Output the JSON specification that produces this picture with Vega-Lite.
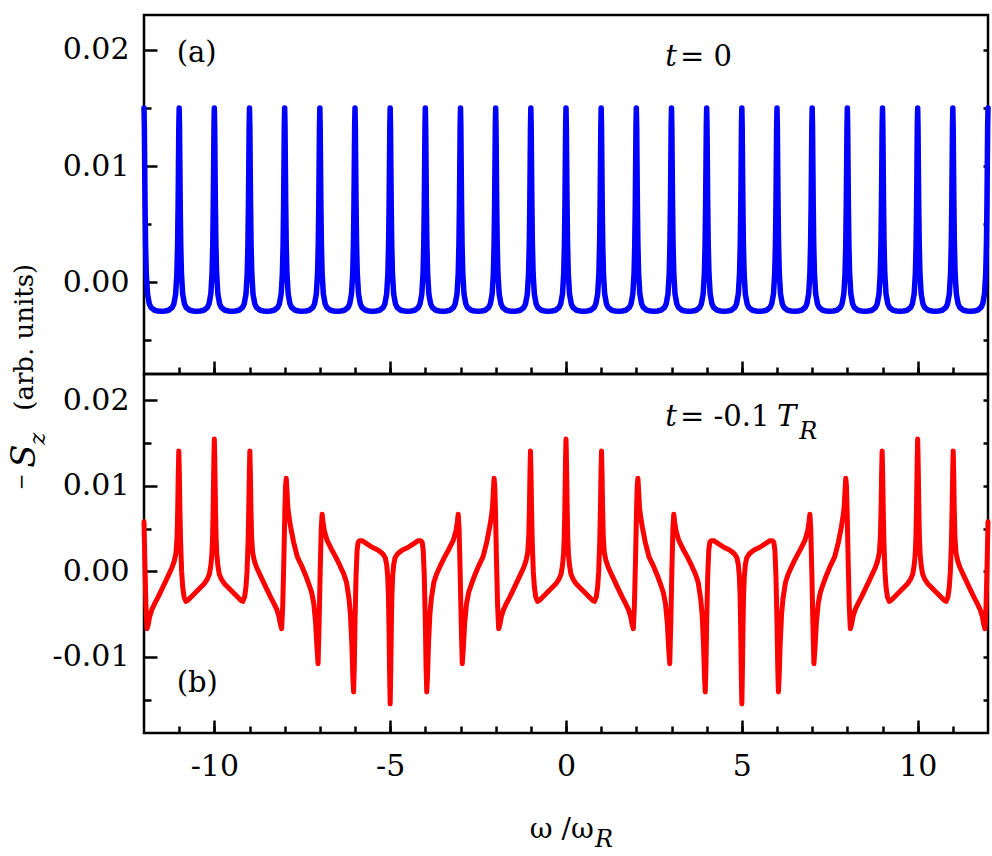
{
"$schema": "https://vega.github.io/schema/vega-lite/v6.json",
"background": "white",
"padding": {"left": 6, "top": 13, "right": 0, "bottom": 0},
"autosize": {"type": "pad"},
"config": {
  "view": {"stroke": "black", "strokeWidth": 2.5},
  "axis": {"domain": false, "grid": false, "tickColor": "black", "tickWidth": 2.5, "labelFont": "DejaVu Serif", "labelFontSize": 30, "labelColor": "black", "labelFlush": false},
  "text": {"font": "DejaVu Serif", "color": "black"}
},
"datasets": {
"top": [
{"w":-12,"s":0.015},{"w":-11.99,"s":0.0134},{"w":-11.98,"s":0.00996},{"w":-11.97,"s":0.00665},{"w":-11.955,"s":0.0032},{"w":-11.935,"s":0.00075},{"w":-11.9,"s":-0.00102},{"w":-11.85,"s":-0.00186},{"w":-11.8,"s":-0.00218},{"w":-11.7,"s":-0.00241},{"w":-11.6,"s":-0.00248},{"w":-11.5,"s":-0.0025},{"w":-11.4,"s":-0.00248},{"w":-11.3,"s":-0.00241},{"w":-11.2,"s":-0.00218},{"w":-11.15,"s":-0.00186},{"w":-11.1,"s":-0.00102},{"w":-11.065,"s":0.00075},{"w":-11.045,"s":0.0032},{"w":-11.03,"s":0.00665},{"w":-11.02,"s":0.00996},{"w":-11.01,"s":0.0134},
{"w":-11,"s":0.015},{"w":-10.99,"s":0.0134},{"w":-10.98,"s":0.00996},{"w":-10.97,"s":0.00665},{"w":-10.955,"s":0.0032},{"w":-10.935,"s":0.00075},{"w":-10.9,"s":-0.00102},{"w":-10.85,"s":-0.00186},{"w":-10.8,"s":-0.00218},{"w":-10.7,"s":-0.00241},{"w":-10.6,"s":-0.00248},{"w":-10.5,"s":-0.0025},{"w":-10.4,"s":-0.00248},{"w":-10.3,"s":-0.00241},{"w":-10.2,"s":-0.00218},{"w":-10.15,"s":-0.00186},{"w":-10.1,"s":-0.00102},{"w":-10.065,"s":0.00075},{"w":-10.045,"s":0.0032},{"w":-10.03,"s":0.00665},{"w":-10.02,"s":0.00996},{"w":-10.01,"s":0.0134},
{"w":-10,"s":0.015},{"w":-9.99,"s":0.0134},{"w":-9.98,"s":0.00996},{"w":-9.97,"s":0.00665},{"w":-9.955,"s":0.0032},{"w":-9.935,"s":0.00075},{"w":-9.9,"s":-0.00102},{"w":-9.85,"s":-0.00186},{"w":-9.8,"s":-0.00218},{"w":-9.7,"s":-0.00241},{"w":-9.6,"s":-0.00248},{"w":-9.5,"s":-0.0025},{"w":-9.4,"s":-0.00248},{"w":-9.3,"s":-0.00241},{"w":-9.2,"s":-0.00218},{"w":-9.15,"s":-0.00186},{"w":-9.1,"s":-0.00102},{"w":-9.065,"s":0.00075},{"w":-9.045,"s":0.0032},{"w":-9.03,"s":0.00665},{"w":-9.02,"s":0.00996},{"w":-9.01,"s":0.0134},
{"w":-9,"s":0.015},{"w":-8.99,"s":0.0134},{"w":-8.98,"s":0.00996},{"w":-8.97,"s":0.00665},{"w":-8.955,"s":0.0032},{"w":-8.935,"s":0.00075},{"w":-8.9,"s":-0.00102},{"w":-8.85,"s":-0.00186},{"w":-8.8,"s":-0.00218},{"w":-8.7,"s":-0.00241},{"w":-8.6,"s":-0.00248},{"w":-8.5,"s":-0.0025},{"w":-8.4,"s":-0.00248},{"w":-8.3,"s":-0.00241},{"w":-8.2,"s":-0.00218},{"w":-8.15,"s":-0.00186},{"w":-8.1,"s":-0.00102},{"w":-8.065,"s":0.00075},{"w":-8.045,"s":0.0032},{"w":-8.03,"s":0.00665},{"w":-8.02,"s":0.00996},{"w":-8.01,"s":0.0134},
{"w":-8,"s":0.015},{"w":-7.99,"s":0.0134},{"w":-7.98,"s":0.00996},{"w":-7.97,"s":0.00665},{"w":-7.955,"s":0.0032},{"w":-7.935,"s":0.00075},{"w":-7.9,"s":-0.00102},{"w":-7.85,"s":-0.00186},{"w":-7.8,"s":-0.00218},{"w":-7.7,"s":-0.00241},{"w":-7.6,"s":-0.00248},{"w":-7.5,"s":-0.0025},{"w":-7.4,"s":-0.00248},{"w":-7.3,"s":-0.00241},{"w":-7.2,"s":-0.00218},{"w":-7.15,"s":-0.00186},{"w":-7.1,"s":-0.00102},{"w":-7.065,"s":0.00075},{"w":-7.045,"s":0.0032},{"w":-7.03,"s":0.00665},{"w":-7.02,"s":0.00996},{"w":-7.01,"s":0.0134},
{"w":-7,"s":0.015},{"w":-6.99,"s":0.0134},{"w":-6.98,"s":0.00996},{"w":-6.97,"s":0.00665},{"w":-6.955,"s":0.0032},{"w":-6.935,"s":0.00075},{"w":-6.9,"s":-0.00102},{"w":-6.85,"s":-0.00186},{"w":-6.8,"s":-0.00218},{"w":-6.7,"s":-0.00241},{"w":-6.6,"s":-0.00248},{"w":-6.5,"s":-0.0025},{"w":-6.4,"s":-0.00248},{"w":-6.3,"s":-0.00241},{"w":-6.2,"s":-0.00218},{"w":-6.15,"s":-0.00186},{"w":-6.1,"s":-0.00102},{"w":-6.065,"s":0.00075},{"w":-6.045,"s":0.0032},{"w":-6.03,"s":0.00665},{"w":-6.02,"s":0.00996},{"w":-6.01,"s":0.0134},
{"w":-6,"s":0.015},{"w":-5.99,"s":0.0134},{"w":-5.98,"s":0.00996},{"w":-5.97,"s":0.00665},{"w":-5.955,"s":0.0032},{"w":-5.935,"s":0.00075},{"w":-5.9,"s":-0.00102},{"w":-5.85,"s":-0.00186},{"w":-5.8,"s":-0.00218},{"w":-5.7,"s":-0.00241},{"w":-5.6,"s":-0.00248},{"w":-5.5,"s":-0.0025},{"w":-5.4,"s":-0.00248},{"w":-5.3,"s":-0.00241},{"w":-5.2,"s":-0.00218},{"w":-5.15,"s":-0.00186},{"w":-5.1,"s":-0.00102},{"w":-5.065,"s":0.00075},{"w":-5.045,"s":0.0032},{"w":-5.03,"s":0.00665},{"w":-5.02,"s":0.00996},{"w":-5.01,"s":0.0134},
{"w":-5,"s":0.015},{"w":-4.99,"s":0.0134},{"w":-4.98,"s":0.00996},{"w":-4.97,"s":0.00665},{"w":-4.955,"s":0.0032},{"w":-4.935,"s":0.00075},{"w":-4.9,"s":-0.00102},{"w":-4.85,"s":-0.00186},{"w":-4.8,"s":-0.00218},{"w":-4.7,"s":-0.00241},{"w":-4.6,"s":-0.00248},{"w":-4.5,"s":-0.0025},{"w":-4.4,"s":-0.00248},{"w":-4.3,"s":-0.00241},{"w":-4.2,"s":-0.00218},{"w":-4.15,"s":-0.00186},{"w":-4.1,"s":-0.00102},{"w":-4.065,"s":0.00075},{"w":-4.045,"s":0.0032},{"w":-4.03,"s":0.00665},{"w":-4.02,"s":0.00996},{"w":-4.01,"s":0.0134},
{"w":-4,"s":0.015},{"w":-3.99,"s":0.0134},{"w":-3.98,"s":0.00996},{"w":-3.97,"s":0.00665},{"w":-3.955,"s":0.0032},{"w":-3.935,"s":0.00075},{"w":-3.9,"s":-0.00102},{"w":-3.85,"s":-0.00186},{"w":-3.8,"s":-0.00218},{"w":-3.7,"s":-0.00241},{"w":-3.6,"s":-0.00248},{"w":-3.5,"s":-0.0025},{"w":-3.4,"s":-0.00248},{"w":-3.3,"s":-0.00241},{"w":-3.2,"s":-0.00218},{"w":-3.15,"s":-0.00186},{"w":-3.1,"s":-0.00102},{"w":-3.065,"s":0.00075},{"w":-3.045,"s":0.0032},{"w":-3.03,"s":0.00665},{"w":-3.02,"s":0.00996},{"w":-3.01,"s":0.0134},
{"w":-3,"s":0.015},{"w":-2.99,"s":0.0134},{"w":-2.98,"s":0.00996},{"w":-2.97,"s":0.00665},{"w":-2.955,"s":0.0032},{"w":-2.935,"s":0.00075},{"w":-2.9,"s":-0.00102},{"w":-2.85,"s":-0.00186},{"w":-2.8,"s":-0.00218},{"w":-2.7,"s":-0.00241},{"w":-2.6,"s":-0.00248},{"w":-2.5,"s":-0.0025},{"w":-2.4,"s":-0.00248},{"w":-2.3,"s":-0.00241},{"w":-2.2,"s":-0.00218},{"w":-2.15,"s":-0.00186},{"w":-2.1,"s":-0.00102},{"w":-2.065,"s":0.00075},{"w":-2.045,"s":0.0032},{"w":-2.03,"s":0.00665},{"w":-2.02,"s":0.00996},{"w":-2.01,"s":0.0134},
{"w":-2,"s":0.015},{"w":-1.99,"s":0.0134},{"w":-1.98,"s":0.00996},{"w":-1.97,"s":0.00665},{"w":-1.955,"s":0.0032},{"w":-1.935,"s":0.00075},{"w":-1.9,"s":-0.00102},{"w":-1.85,"s":-0.00186},{"w":-1.8,"s":-0.00218},{"w":-1.7,"s":-0.00241},{"w":-1.6,"s":-0.00248},{"w":-1.5,"s":-0.0025},{"w":-1.4,"s":-0.00248},{"w":-1.3,"s":-0.00241},{"w":-1.2,"s":-0.00218},{"w":-1.15,"s":-0.00186},{"w":-1.1,"s":-0.00102},{"w":-1.065,"s":0.00075},{"w":-1.045,"s":0.0032},{"w":-1.03,"s":0.00665},{"w":-1.02,"s":0.00996},{"w":-1.01,"s":0.0134},
{"w":-1,"s":0.015},{"w":-0.99,"s":0.0134},{"w":-0.98,"s":0.00996},{"w":-0.97,"s":0.00665},{"w":-0.955,"s":0.0032},{"w":-0.935,"s":0.00075},{"w":-0.9,"s":-0.00102},{"w":-0.85,"s":-0.00186},{"w":-0.8,"s":-0.00218},{"w":-0.7,"s":-0.00241},{"w":-0.6,"s":-0.00248},{"w":-0.5,"s":-0.0025},{"w":-0.4,"s":-0.00248},{"w":-0.3,"s":-0.00241},{"w":-0.2,"s":-0.00218},{"w":-0.15,"s":-0.00186},{"w":-0.1,"s":-0.00102},{"w":-0.065,"s":0.00075},{"w":-0.045,"s":0.0032},{"w":-0.03,"s":0.00665},{"w":-0.02,"s":0.00996},{"w":-0.01,"s":0.0134},
{"w":0,"s":0.015},{"w":0.01,"s":0.0134},{"w":0.02,"s":0.00996},{"w":0.03,"s":0.00665},{"w":0.045,"s":0.0032},{"w":0.065,"s":0.00075},{"w":0.1,"s":-0.00102},{"w":0.15,"s":-0.00186},{"w":0.2,"s":-0.00218},{"w":0.3,"s":-0.00241},{"w":0.4,"s":-0.00248},{"w":0.5,"s":-0.0025},{"w":0.6,"s":-0.00248},{"w":0.7,"s":-0.00241},{"w":0.8,"s":-0.00218},{"w":0.85,"s":-0.00186},{"w":0.9,"s":-0.00102},{"w":0.935,"s":0.00075},{"w":0.955,"s":0.0032},{"w":0.97,"s":0.00665},{"w":0.98,"s":0.00996},{"w":0.99,"s":0.0134},
{"w":1,"s":0.015},{"w":1.01,"s":0.0134},{"w":1.02,"s":0.00996},{"w":1.03,"s":0.00665},{"w":1.045,"s":0.0032},{"w":1.065,"s":0.00075},{"w":1.1,"s":-0.00102},{"w":1.15,"s":-0.00186},{"w":1.2,"s":-0.00218},{"w":1.3,"s":-0.00241},{"w":1.4,"s":-0.00248},{"w":1.5,"s":-0.0025},{"w":1.6,"s":-0.00248},{"w":1.7,"s":-0.00241},{"w":1.8,"s":-0.00218},{"w":1.85,"s":-0.00186},{"w":1.9,"s":-0.00102},{"w":1.935,"s":0.00075},{"w":1.955,"s":0.0032},{"w":1.97,"s":0.00665},{"w":1.98,"s":0.00996},{"w":1.99,"s":0.0134},
{"w":2,"s":0.015},{"w":2.01,"s":0.0134},{"w":2.02,"s":0.00996},{"w":2.03,"s":0.00665},{"w":2.045,"s":0.0032},{"w":2.065,"s":0.00075},{"w":2.1,"s":-0.00102},{"w":2.15,"s":-0.00186},{"w":2.2,"s":-0.00218},{"w":2.3,"s":-0.00241},{"w":2.4,"s":-0.00248},{"w":2.5,"s":-0.0025},{"w":2.6,"s":-0.00248},{"w":2.7,"s":-0.00241},{"w":2.8,"s":-0.00218},{"w":2.85,"s":-0.00186},{"w":2.9,"s":-0.00102},{"w":2.935,"s":0.00075},{"w":2.955,"s":0.0032},{"w":2.97,"s":0.00665},{"w":2.98,"s":0.00996},{"w":2.99,"s":0.0134},
{"w":3,"s":0.015},{"w":3.01,"s":0.0134},{"w":3.02,"s":0.00996},{"w":3.03,"s":0.00665},{"w":3.045,"s":0.0032},{"w":3.065,"s":0.00075},{"w":3.1,"s":-0.00102},{"w":3.15,"s":-0.00186},{"w":3.2,"s":-0.00218},{"w":3.3,"s":-0.00241},{"w":3.4,"s":-0.00248},{"w":3.5,"s":-0.0025},{"w":3.6,"s":-0.00248},{"w":3.7,"s":-0.00241},{"w":3.8,"s":-0.00218},{"w":3.85,"s":-0.00186},{"w":3.9,"s":-0.00102},{"w":3.935,"s":0.00075},{"w":3.955,"s":0.0032},{"w":3.97,"s":0.00665},{"w":3.98,"s":0.00996},{"w":3.99,"s":0.0134},
{"w":4,"s":0.015},{"w":4.01,"s":0.0134},{"w":4.02,"s":0.00996},{"w":4.03,"s":0.00665},{"w":4.045,"s":0.0032},{"w":4.065,"s":0.00075},{"w":4.1,"s":-0.00102},{"w":4.15,"s":-0.00186},{"w":4.2,"s":-0.00218},{"w":4.3,"s":-0.00241},{"w":4.4,"s":-0.00248},{"w":4.5,"s":-0.0025},{"w":4.6,"s":-0.00248},{"w":4.7,"s":-0.00241},{"w":4.8,"s":-0.00218},{"w":4.85,"s":-0.00186},{"w":4.9,"s":-0.00102},{"w":4.935,"s":0.00075},{"w":4.955,"s":0.0032},{"w":4.97,"s":0.00665},{"w":4.98,"s":0.00996},{"w":4.99,"s":0.0134},
{"w":5,"s":0.015},{"w":5.01,"s":0.0134},{"w":5.02,"s":0.00996},{"w":5.03,"s":0.00665},{"w":5.045,"s":0.0032},{"w":5.065,"s":0.00075},{"w":5.1,"s":-0.00102},{"w":5.15,"s":-0.00186},{"w":5.2,"s":-0.00218},{"w":5.3,"s":-0.00241},{"w":5.4,"s":-0.00248},{"w":5.5,"s":-0.0025},{"w":5.6,"s":-0.00248},{"w":5.7,"s":-0.00241},{"w":5.8,"s":-0.00218},{"w":5.85,"s":-0.00186},{"w":5.9,"s":-0.00102},{"w":5.935,"s":0.00075},{"w":5.955,"s":0.0032},{"w":5.97,"s":0.00665},{"w":5.98,"s":0.00996},{"w":5.99,"s":0.0134},
{"w":6,"s":0.015},{"w":6.01,"s":0.0134},{"w":6.02,"s":0.00996},{"w":6.03,"s":0.00665},{"w":6.045,"s":0.0032},{"w":6.065,"s":0.00075},{"w":6.1,"s":-0.00102},{"w":6.15,"s":-0.00186},{"w":6.2,"s":-0.00218},{"w":6.3,"s":-0.00241},{"w":6.4,"s":-0.00248},{"w":6.5,"s":-0.0025},{"w":6.6,"s":-0.00248},{"w":6.7,"s":-0.00241},{"w":6.8,"s":-0.00218},{"w":6.85,"s":-0.00186},{"w":6.9,"s":-0.00102},{"w":6.935,"s":0.00075},{"w":6.955,"s":0.0032},{"w":6.97,"s":0.00665},{"w":6.98,"s":0.00996},{"w":6.99,"s":0.0134},
{"w":7,"s":0.015},{"w":7.01,"s":0.0134},{"w":7.02,"s":0.00996},{"w":7.03,"s":0.00665},{"w":7.045,"s":0.0032},{"w":7.065,"s":0.00075},{"w":7.1,"s":-0.00102},{"w":7.15,"s":-0.00186},{"w":7.2,"s":-0.00218},{"w":7.3,"s":-0.00241},{"w":7.4,"s":-0.00248},{"w":7.5,"s":-0.0025},{"w":7.6,"s":-0.00248},{"w":7.7,"s":-0.00241},{"w":7.8,"s":-0.00218},{"w":7.85,"s":-0.00186},{"w":7.9,"s":-0.00102},{"w":7.935,"s":0.00075},{"w":7.955,"s":0.0032},{"w":7.97,"s":0.00665},{"w":7.98,"s":0.00996},{"w":7.99,"s":0.0134},
{"w":8,"s":0.015},{"w":8.01,"s":0.0134},{"w":8.02,"s":0.00996},{"w":8.03,"s":0.00665},{"w":8.045,"s":0.0032},{"w":8.065,"s":0.00075},{"w":8.1,"s":-0.00102},{"w":8.15,"s":-0.00186},{"w":8.2,"s":-0.00218},{"w":8.3,"s":-0.00241},{"w":8.4,"s":-0.00248},{"w":8.5,"s":-0.0025},{"w":8.6,"s":-0.00248},{"w":8.7,"s":-0.00241},{"w":8.8,"s":-0.00218},{"w":8.85,"s":-0.00186},{"w":8.9,"s":-0.00102},{"w":8.935,"s":0.00075},{"w":8.955,"s":0.0032},{"w":8.97,"s":0.00665},{"w":8.98,"s":0.00996},{"w":8.99,"s":0.0134},
{"w":9,"s":0.015},{"w":9.01,"s":0.0134},{"w":9.02,"s":0.00996},{"w":9.03,"s":0.00665},{"w":9.045,"s":0.0032},{"w":9.065,"s":0.00075},{"w":9.1,"s":-0.00102},{"w":9.15,"s":-0.00186},{"w":9.2,"s":-0.00218},{"w":9.3,"s":-0.00241},{"w":9.4,"s":-0.00248},{"w":9.5,"s":-0.0025},{"w":9.6,"s":-0.00248},{"w":9.7,"s":-0.00241},{"w":9.8,"s":-0.00218},{"w":9.85,"s":-0.00186},{"w":9.9,"s":-0.00102},{"w":9.935,"s":0.00075},{"w":9.955,"s":0.0032},{"w":9.97,"s":0.00665},{"w":9.98,"s":0.00996},{"w":9.99,"s":0.0134},
{"w":10,"s":0.015},{"w":10.01,"s":0.0134},{"w":10.02,"s":0.00996},{"w":10.03,"s":0.00665},{"w":10.045,"s":0.0032},{"w":10.065,"s":0.00075},{"w":10.1,"s":-0.00102},{"w":10.15,"s":-0.00186},{"w":10.2,"s":-0.00218},{"w":10.3,"s":-0.00241},{"w":10.4,"s":-0.00248},{"w":10.5,"s":-0.0025},{"w":10.6,"s":-0.00248},{"w":10.7,"s":-0.00241},{"w":10.8,"s":-0.00218},{"w":10.85,"s":-0.00186},{"w":10.9,"s":-0.00102},{"w":10.935,"s":0.00075},{"w":10.955,"s":0.0032},{"w":10.97,"s":0.00665},{"w":10.98,"s":0.00996},{"w":10.99,"s":0.0134},
{"w":11,"s":0.015},{"w":11.01,"s":0.0134},{"w":11.02,"s":0.00996},{"w":11.03,"s":0.00665},{"w":11.045,"s":0.0032},{"w":11.065,"s":0.00075},{"w":11.1,"s":-0.00102},{"w":11.15,"s":-0.00186},{"w":11.2,"s":-0.00218},{"w":11.3,"s":-0.00241},{"w":11.4,"s":-0.00248},{"w":11.5,"s":-0.0025},{"w":11.6,"s":-0.00248},{"w":11.7,"s":-0.00241},{"w":11.8,"s":-0.00218},{"w":11.85,"s":-0.00186},{"w":11.9,"s":-0.00102},{"w":11.935,"s":0.00075},{"w":11.955,"s":0.0032},{"w":11.97,"s":0.00665},{"w":11.98,"s":0.00996},{"w":11.99,"s":0.0134},
{"w":12,"s":0.015}
],
"bot": [
{"w":0,"s":0.0155},{"w":0.01,"s":0.0137},{"w":0.02,"s":0.0112},{"w":0.035,"s":0.007},{"w":0.05,"s":0.004},{"w":0.07,"s":0.002},{"w":0.1,"s":0.0007},{"w":0.14,"s":-0.0003},{"w":0.2,"s":-0.0009},{"w":0.28,"s":-0.0014},{"w":0.4,"s":-0.0019},{"w":0.52,"s":-0.0024},{"w":0.64,"s":-0.0029},{"w":0.76,"s":-0.0034},{"w":0.81,"s":-0.0035},{"w":0.86,"s":-0.003},{"w":0.9,"s":-0.0018},{"w":0.93,"s":0},{"w":0.96,"s":0.0035},{"w":0.98,"s":0.0075},{"w":0.995,"s":0.0115},{"w":1.01,"s":0.0141},{"w":1.025,"s":0.0115},{"w":1.04,"s":0.0075},{"w":1.06,"s":0.004},{"w":1.09,"s":0.0022},{"w":1.14,"s":0.0012},{"w":1.2,"s":0.0005},{"w":1.3,"s":-0.0004},{"w":1.46,"s":-0.0018},{"w":1.6,"s":-0.003},{"w":1.7,"s":-0.0038},{"w":1.78,"s":-0.0045},{"w":1.84,"s":-0.0053},{"w":1.88,"s":-0.0062},{"w":1.915,"s":-0.0067},{"w":1.945,"s":-0.004},{"w":1.975,"s":0.001},{"w":2.005,"s":0.007},{"w":2.025,"s":0.01},{"w":2.045,"s":0.0109},{"w":2.065,"s":0.0095},{"w":2.09,"s":0.0075},{"w":2.13,"s":0.0062},{"w":2.17,"s":0.0052},{"w":2.25,"s":0.0035},{"w":2.36,"s":0.0017},{"w":2.5,"s":0.0005},{"w":2.6,"s":-0.0005},{"w":2.69,"s":-0.0015},{"w":2.77,"s":-0.0025},{"w":2.83,"s":-0.0038},{"w":2.88,"s":-0.006},{"w":2.92,"s":-0.009},{"w":2.95,"s":-0.0108},{"w":2.98,"s":-0.006},{"w":3.01,"s":0},{"w":3.04,"s":0.005},{"w":3.065,"s":0.0067},{"w":3.09,"s":0.0058},{"w":3.13,"s":0.0047},{"w":3.21,"s":0.0036},{"w":3.33,"s":0.0026},{"w":3.45,"s":0.0017},{"w":3.57,"s":0.0007},{"w":3.68,"s":-0.0003},{"w":3.76,"s":-0.0013},{"w":3.83,"s":-0.0032},{"w":3.87,"s":-0.005},{"w":3.91,"s":-0.0085},{"w":3.94,"s":-0.0125},{"w":3.96,"s":-0.0141},{"w":3.98,"s":-0.011},{"w":4,"s":-0.006},{"w":4.03,"s":-0.0005},{"w":4.06,"s":0.0025},{"w":4.09,"s":0.0034},{"w":4.13,"s":0.0036},{"w":4.2,"s":0.0036},{"w":4.35,"s":0.0032},{"w":4.5,"s":0.0028},{"w":4.65,"s":0.0025},{"w":4.75,"s":0.0022},{"w":4.8,"s":0.002},{"w":4.86,"s":0.0016},{"w":4.9,"s":0.0008},{"w":4.93,"s":-0.0006},{"w":4.95,"s":-0.0028},{"w":4.965,"s":-0.006},{"w":4.98,"s":-0.0106},{"w":4.99,"s":-0.0133},{"w":5,"s":-0.0155},
{"w":5.01,"s":-0.0133},{"w":5.02,"s":-0.0106},{"w":5.035,"s":-0.006},{"w":5.05,"s":-0.0028},{"w":5.07,"s":-0.0006},{"w":5.1,"s":0.0008},{"w":5.14,"s":0.0016},{"w":5.2,"s":0.002},{"w":5.25,"s":0.0022},{"w":5.35,"s":0.0025},{"w":5.5,"s":0.0028},{"w":5.65,"s":0.0032},{"w":5.8,"s":0.0036},{"w":5.87,"s":0.0036},{"w":5.91,"s":0.0034},{"w":5.94,"s":0.0025},{"w":5.97,"s":-0.0005},{"w":6,"s":-0.006},{"w":6.02,"s":-0.011},{"w":6.04,"s":-0.0141},{"w":6.06,"s":-0.0125},{"w":6.09,"s":-0.0085},{"w":6.13,"s":-0.005},{"w":6.17,"s":-0.0032},{"w":6.24,"s":-0.0013},{"w":6.32,"s":-0.0003},{"w":6.43,"s":0.0007},{"w":6.55,"s":0.0017},{"w":6.67,"s":0.0026},{"w":6.79,"s":0.0036},{"w":6.87,"s":0.0047},{"w":6.91,"s":0.0058},{"w":6.935,"s":0.0067},{"w":6.96,"s":0.005},{"w":6.99,"s":0},{"w":7.02,"s":-0.006},{"w":7.05,"s":-0.0108},{"w":7.08,"s":-0.009},{"w":7.12,"s":-0.006},{"w":7.17,"s":-0.0038},{"w":7.23,"s":-0.0025},{"w":7.31,"s":-0.0015},{"w":7.4,"s":-0.0005},{"w":7.5,"s":0.0005},{"w":7.64,"s":0.0017},{"w":7.75,"s":0.0035},{"w":7.83,"s":0.0052},{"w":7.87,"s":0.0062},{"w":7.91,"s":0.0075},{"w":7.935,"s":0.0095},{"w":7.955,"s":0.0109},{"w":7.975,"s":0.01},{"w":7.995,"s":0.007},{"w":8.025,"s":0.001},{"w":8.055,"s":-0.004},{"w":8.085,"s":-0.0067},{"w":8.12,"s":-0.0062},{"w":8.16,"s":-0.0053},{"w":8.22,"s":-0.0045},{"w":8.3,"s":-0.0038},{"w":8.4,"s":-0.003},{"w":8.54,"s":-0.0018},{"w":8.7,"s":-0.0004},{"w":8.8,"s":0.0005},{"w":8.86,"s":0.0012},{"w":8.91,"s":0.0022},{"w":8.94,"s":0.004},{"w":8.96,"s":0.0075},{"w":8.975,"s":0.0115},{"w":8.99,"s":0.0141},{"w":9.005,"s":0.0115},{"w":9.02,"s":0.0075},{"w":9.04,"s":0.0035},{"w":9.07,"s":0},{"w":9.1,"s":-0.0018},{"w":9.14,"s":-0.003},{"w":9.19,"s":-0.0035},{"w":9.24,"s":-0.0034},{"w":9.36,"s":-0.0029},{"w":9.48,"s":-0.0024},{"w":9.6,"s":-0.0019},{"w":9.72,"s":-0.0014},{"w":9.8,"s":-0.0009},{"w":9.86,"s":-0.0003},{"w":9.9,"s":0.0007},{"w":9.93,"s":0.002},{"w":9.95,"s":0.004},{"w":9.965,"s":0.007},{"w":9.98,"s":0.0112},{"w":9.99,"s":0.0137},{"w":10,"s":0.0155},
{"w":10.01,"s":0.0137},{"w":10.02,"s":0.0112},{"w":10.035,"s":0.007},{"w":10.05,"s":0.004},{"w":10.07,"s":0.002},{"w":10.1,"s":0.0007},{"w":10.14,"s":-0.0003},{"w":10.2,"s":-0.0009},{"w":10.28,"s":-0.0014},{"w":10.4,"s":-0.0019},{"w":10.52,"s":-0.0024},{"w":10.64,"s":-0.0029},{"w":10.76,"s":-0.0034},{"w":10.81,"s":-0.0035},{"w":10.86,"s":-0.003},{"w":10.9,"s":-0.0018},{"w":10.93,"s":0},{"w":10.96,"s":0.0035},{"w":10.98,"s":0.0075},{"w":10.995,"s":0.0115},{"w":11.01,"s":0.0141},{"w":11.025,"s":0.0115},{"w":11.04,"s":0.0075},{"w":11.06,"s":0.004},{"w":11.09,"s":0.0022},{"w":11.14,"s":0.0012},{"w":11.2,"s":0.0005},{"w":11.3,"s":-0.0004},{"w":11.46,"s":-0.0018},{"w":11.6,"s":-0.003},{"w":11.7,"s":-0.0038},{"w":11.78,"s":-0.0045},{"w":11.84,"s":-0.0053},{"w":11.88,"s":-0.0062},{"w":11.915,"s":-0.0067},{"w":11.945,"s":-0.004},{"w":11.975,"s":0.001},{"w":12,"s":0.0058},
{"w":-0.01,"s":0.0137},{"w":-0.02,"s":0.0112},{"w":-0.035,"s":0.007},{"w":-0.05,"s":0.004},{"w":-0.07,"s":0.002},{"w":-0.1,"s":0.0007},{"w":-0.14,"s":-0.0003},{"w":-0.2,"s":-0.0009},{"w":-0.28,"s":-0.0014},{"w":-0.4,"s":-0.0019},{"w":-0.52,"s":-0.0024},{"w":-0.64,"s":-0.0029},{"w":-0.76,"s":-0.0034},{"w":-0.81,"s":-0.0035},{"w":-0.86,"s":-0.003},{"w":-0.9,"s":-0.0018},{"w":-0.93,"s":0},{"w":-0.96,"s":0.0035},{"w":-0.98,"s":0.0075},{"w":-0.995,"s":0.0115},{"w":-1.01,"s":0.0141},{"w":-1.025,"s":0.0115},{"w":-1.04,"s":0.0075},{"w":-1.06,"s":0.004},{"w":-1.09,"s":0.0022},{"w":-1.14,"s":0.0012},{"w":-1.2,"s":0.0005},{"w":-1.3,"s":-0.0004},{"w":-1.46,"s":-0.0018},{"w":-1.6,"s":-0.003},{"w":-1.7,"s":-0.0038},{"w":-1.78,"s":-0.0045},{"w":-1.84,"s":-0.0053},{"w":-1.88,"s":-0.0062},{"w":-1.915,"s":-0.0067},{"w":-1.945,"s":-0.004},{"w":-1.975,"s":0.001},{"w":-2.005,"s":0.007},{"w":-2.025,"s":0.01},{"w":-2.045,"s":0.0109},{"w":-2.065,"s":0.0095},{"w":-2.09,"s":0.0075},{"w":-2.13,"s":0.0062},{"w":-2.17,"s":0.0052},{"w":-2.25,"s":0.0035},{"w":-2.36,"s":0.0017},{"w":-2.5,"s":0.0005},{"w":-2.6,"s":-0.0005},{"w":-2.69,"s":-0.0015},{"w":-2.77,"s":-0.0025},{"w":-2.83,"s":-0.0038},{"w":-2.88,"s":-0.006},{"w":-2.92,"s":-0.009},{"w":-2.95,"s":-0.0108},{"w":-2.98,"s":-0.006},{"w":-3.01,"s":0},{"w":-3.04,"s":0.005},{"w":-3.065,"s":0.0067},{"w":-3.09,"s":0.0058},{"w":-3.13,"s":0.0047},{"w":-3.21,"s":0.0036},{"w":-3.33,"s":0.0026},{"w":-3.45,"s":0.0017},{"w":-3.57,"s":0.0007},{"w":-3.68,"s":-0.0003},{"w":-3.76,"s":-0.0013},{"w":-3.83,"s":-0.0032},{"w":-3.87,"s":-0.005},{"w":-3.91,"s":-0.0085},{"w":-3.94,"s":-0.0125},{"w":-3.96,"s":-0.0141},{"w":-3.98,"s":-0.011},{"w":-4,"s":-0.006},{"w":-4.03,"s":-0.0005},{"w":-4.06,"s":0.0025},{"w":-4.09,"s":0.0034},{"w":-4.13,"s":0.0036},{"w":-4.2,"s":0.0036},{"w":-4.35,"s":0.0032},{"w":-4.5,"s":0.0028},{"w":-4.65,"s":0.0025},{"w":-4.75,"s":0.0022},{"w":-4.8,"s":0.002},{"w":-4.86,"s":0.0016},{"w":-4.9,"s":0.0008},{"w":-4.93,"s":-0.0006},{"w":-4.95,"s":-0.0028},{"w":-4.965,"s":-0.006},{"w":-4.98,"s":-0.0106},{"w":-4.99,"s":-0.0133},{"w":-5,"s":-0.0155},
{"w":-5.01,"s":-0.0133},{"w":-5.02,"s":-0.0106},{"w":-5.035,"s":-0.006},{"w":-5.05,"s":-0.0028},{"w":-5.07,"s":-0.0006},{"w":-5.1,"s":0.0008},{"w":-5.14,"s":0.0016},{"w":-5.2,"s":0.002},{"w":-5.25,"s":0.0022},{"w":-5.35,"s":0.0025},{"w":-5.5,"s":0.0028},{"w":-5.65,"s":0.0032},{"w":-5.8,"s":0.0036},{"w":-5.87,"s":0.0036},{"w":-5.91,"s":0.0034},{"w":-5.94,"s":0.0025},{"w":-5.97,"s":-0.0005},{"w":-6,"s":-0.006},{"w":-6.02,"s":-0.011},{"w":-6.04,"s":-0.0141},{"w":-6.06,"s":-0.0125},{"w":-6.09,"s":-0.0085},{"w":-6.13,"s":-0.005},{"w":-6.17,"s":-0.0032},{"w":-6.24,"s":-0.0013},{"w":-6.32,"s":-0.0003},{"w":-6.43,"s":0.0007},{"w":-6.55,"s":0.0017},{"w":-6.67,"s":0.0026},{"w":-6.79,"s":0.0036},{"w":-6.87,"s":0.0047},{"w":-6.91,"s":0.0058},{"w":-6.935,"s":0.0067},{"w":-6.96,"s":0.005},{"w":-6.99,"s":0},{"w":-7.02,"s":-0.006},{"w":-7.05,"s":-0.0108},{"w":-7.08,"s":-0.009},{"w":-7.12,"s":-0.006},{"w":-7.17,"s":-0.0038},{"w":-7.23,"s":-0.0025},{"w":-7.31,"s":-0.0015},{"w":-7.4,"s":-0.0005},{"w":-7.5,"s":0.0005},{"w":-7.64,"s":0.0017},{"w":-7.75,"s":0.0035},{"w":-7.83,"s":0.0052},{"w":-7.87,"s":0.0062},{"w":-7.91,"s":0.0075},{"w":-7.935,"s":0.0095},{"w":-7.955,"s":0.0109},{"w":-7.975,"s":0.01},{"w":-7.995,"s":0.007},{"w":-8.025,"s":0.001},{"w":-8.055,"s":-0.004},{"w":-8.085,"s":-0.0067},{"w":-8.12,"s":-0.0062},{"w":-8.16,"s":-0.0053},{"w":-8.22,"s":-0.0045},{"w":-8.3,"s":-0.0038},{"w":-8.4,"s":-0.003},{"w":-8.54,"s":-0.0018},{"w":-8.7,"s":-0.0004},{"w":-8.8,"s":0.0005},{"w":-8.86,"s":0.0012},{"w":-8.91,"s":0.0022},{"w":-8.94,"s":0.004},{"w":-8.96,"s":0.0075},{"w":-8.975,"s":0.0115},{"w":-8.99,"s":0.0141},{"w":-9.005,"s":0.0115},{"w":-9.02,"s":0.0075},{"w":-9.04,"s":0.0035},{"w":-9.07,"s":0},{"w":-9.1,"s":-0.0018},{"w":-9.14,"s":-0.003},{"w":-9.19,"s":-0.0035},{"w":-9.24,"s":-0.0034},{"w":-9.36,"s":-0.0029},{"w":-9.48,"s":-0.0024},{"w":-9.6,"s":-0.0019},{"w":-9.72,"s":-0.0014},{"w":-9.8,"s":-0.0009},{"w":-9.86,"s":-0.0003},{"w":-9.9,"s":0.0007},{"w":-9.93,"s":0.002},{"w":-9.95,"s":0.004},{"w":-9.965,"s":0.007},{"w":-9.98,"s":0.0112},{"w":-9.99,"s":0.0137},{"w":-10,"s":0.0155},
{"w":-10.01,"s":0.0137},{"w":-10.02,"s":0.0112},{"w":-10.035,"s":0.007},{"w":-10.05,"s":0.004},{"w":-10.07,"s":0.002},{"w":-10.1,"s":0.0007},{"w":-10.14,"s":-0.0003},{"w":-10.2,"s":-0.0009},{"w":-10.28,"s":-0.0014},{"w":-10.4,"s":-0.0019},{"w":-10.52,"s":-0.0024},{"w":-10.64,"s":-0.0029},{"w":-10.76,"s":-0.0034},{"w":-10.81,"s":-0.0035},{"w":-10.86,"s":-0.003},{"w":-10.9,"s":-0.0018},{"w":-10.93,"s":0},{"w":-10.96,"s":0.0035},{"w":-10.98,"s":0.0075},{"w":-10.995,"s":0.0115},{"w":-11.01,"s":0.0141},{"w":-11.025,"s":0.0115},{"w":-11.04,"s":0.0075},{"w":-11.06,"s":0.004},{"w":-11.09,"s":0.0022},{"w":-11.14,"s":0.0012},{"w":-11.2,"s":0.0005},{"w":-11.3,"s":-0.0004},{"w":-11.46,"s":-0.0018},{"w":-11.6,"s":-0.003},{"w":-11.7,"s":-0.0038},{"w":-11.78,"s":-0.0045},{"w":-11.84,"s":-0.0053},{"w":-11.88,"s":-0.0062},{"w":-11.915,"s":-0.0067},{"w":-11.945,"s":-0.004},{"w":-11.975,"s":0.001},{"w":-12,"s":0.0058}
]
},
"spacing": 0,
"bounds": "flush",
"vconcat": [
{
  "width": 844,
  "height": 359,
  "encoding": {
    "x": {"field": "w", "type": "quantitative", "scale": {"domain": [-12, 12], "nice": false, "zero": false}, "axis": null},
    "y": {"field": "s", "type": "quantitative", "scale": {"domain": [-0.0079, 0.023], "nice": false, "zero": false}, "axis": null}
  },
  "layer": [
    {
      "data": {"name": "top"},
      "mark": {"type": "line", "color": "#0000ff", "strokeWidth": 5.5, "strokeJoin": "round", "strokeCap": "round"},
      "encoding": {
        "x": {"field": "w", "type": "quantitative", "scale": {"domain": [-12, 12], "nice": false, "zero": false}, "axis": {"orient": "bottom", "values": [-11,-10,-9,-8,-7,-6,-5,-4,-3,-2,-1,0,1,2,3,4,5,6,7,8,9,10,11], "tickSize": -7, "labels": false, "title": null}},
        "y": {"field": "s", "type": "quantitative", "scale": {"domain": [-0.0079, 0.023], "nice": false, "zero": false}, "axis": {"orient": "left", "values": [-0.005, 0.005, 0.015], "tickSize": -7, "labels": false, "title": null}}
      }
    },
    {
      "data": {"values": [{"w": -11.07, "s": 0.0197, "t": "(a)"}]},
      "mark": {"type": "text", "font": "DejaVu Serif", "fontSize": 29, "align": "left", "baseline": "middle"},
      "encoding": {
        "x": {"field": "w", "type": "quantitative", "scale": {"domain": [-12, 12], "nice": false, "zero": false}, "axis": {"orient": "bottom", "values": [-10,-5,0,5,10], "tickSize": -13, "labels": false, "title": null}},
        "y": {"field": "s", "type": "quantitative", "scale": {"domain": [-0.0079, 0.023], "nice": false, "zero": false}, "axis": {"orient": "left", "values": [0, 0.01, 0.02], "tickSize": -13, "labelPadding": 28, "labelFont": "DejaVu Serif", "labelExpr": "datum.value < 0 ? '-' + format(-datum.value, '.2f') : format(datum.value, '.2f')", "title": null}},
        "text": {"field": "t"}
      }
    },
    {
      "data": {"values": [{"w": 2.82, "s": 0.0186, "t": "t"}]},
      "mark": {"type": "text", "font": "DejaVu Serif", "fontSize": 29, "fontStyle": "italic", "align": "left", "baseline": "alphabetic"},
      "encoding": {
        "x": {"field": "w", "type": "quantitative", "scale": {"domain": [-12, 12], "nice": false, "zero": false}, "axis": null},
        "y": {"field": "s", "type": "quantitative", "scale": {"domain": [-0.0079, 0.023], "nice": false, "zero": false}, "axis": {"orient": "right", "values": [-0.005, 0, 0.005, 0.01, 0.015, 0.02], "tickSize": -5, "labels": false, "title": null}},
        "text": {"field": "t"}
      }
    },
    {
      "data": {"values": [{"w": 3.24, "s": 0.0186, "t": "= 0"}]},
      "mark": {"type": "text", "font": "DejaVu Serif", "fontSize": 29, "align": "left", "baseline": "alphabetic"},
      "encoding": {"text": {"field": "t"}}
    }
  ],
  "resolve": {"axis": {"x": "independent", "y": "independent"}}
},
{
  "width": 844,
  "height": 359,
  "encoding": {
    "x": {"field": "w", "type": "quantitative", "scale": {"domain": [-12, 12], "nice": false, "zero": false}, "axis": null},
    "y": {"field": "s", "type": "quantitative", "scale": {"domain": [-0.0189, 0.0231], "nice": false, "zero": false}, "axis": null}
  },
  "layer": [
    {
      "data": {"name": "bot"},
      "mark": {"type": "line", "color": "#ff0000", "strokeWidth": 5, "strokeJoin": "round", "strokeCap": "round"},
      "encoding": {
        "x": {"field": "w", "type": "quantitative", "scale": {"domain": [-12, 12], "nice": false, "zero": false}, "axis": {"orient": "bottom", "values": [-11,-10,-9,-8,-7,-6,-5,-4,-3,-2,-1,0,1,2,3,4,5,6,7,8,9,10,11], "tickSize": -7, "labels": false, "title": null}},
        "y": {"field": "s", "type": "quantitative", "scale": {"domain": [-0.0189, 0.0231], "nice": false, "zero": false}, "axis": {"orient": "left", "values": [-0.015, -0.005, 0.005, 0.015], "tickSize": -7, "labels": false, "title": null}}
      }
    },
    {
      "data": {"values": [{"w": -11.07, "s": -0.01302, "t": "(b)"}]},
      "mark": {"type": "text", "font": "DejaVu Serif", "fontSize": 29, "align": "left", "baseline": "middle"},
      "encoding": {
        "x": {"field": "w", "type": "quantitative", "scale": {"domain": [-12, 12], "nice": false, "zero": false}, "axis": {"orient": "bottom", "values": [-10,-5,0,5,10], "tickSize": -13, "labelPadding": 31, "labelFont": "DejaVu Serif", "labelExpr": "datum.value < 0 ? '-' + format(-datum.value, 'd') : format(datum.value, 'd')", "title": null}},
        "y": {"field": "s", "type": "quantitative", "scale": {"domain": [-0.0189, 0.0231], "nice": false, "zero": false}, "axis": {"orient": "left", "values": [-0.01, 0, 0.01, 0.02], "tickSize": -13, "labelPadding": 28, "labelFont": "DejaVu Serif", "labelExpr": "datum.value < 0 ? '-' + format(-datum.value, '.2f') : format(datum.value, '.2f')", "title": null}},
        "text": {"field": "t"}
      }
    },
    {
      "data": {"values": [{"w": 2.82, "s": 0.01704, "t": "t"}]},
      "mark": {"type": "text", "font": "DejaVu Serif", "fontSize": 29, "fontStyle": "italic", "align": "left", "baseline": "alphabetic"},
      "encoding": {
        "x": {"field": "w", "type": "quantitative", "scale": {"domain": [-12, 12], "nice": false, "zero": false}, "axis": null},
        "y": {"field": "s", "type": "quantitative", "scale": {"domain": [-0.0189, 0.0231], "nice": false, "zero": false}, "axis": {"orient": "right", "values": [-0.015, -0.01, -0.005, 0, 0.005, 0.01, 0.015, 0.02], "tickSize": -5, "labels": false, "title": null}},
        "text": {"field": "t"}
      }
    },
    {
      "data": {"values": [{"w": 3.24, "s": 0.01704, "t": "= -0.1"}]},
      "mark": {"type": "text", "font": "DejaVu Serif", "fontSize": 29, "align": "left", "baseline": "alphabetic"},
      "encoding": {"text": {"field": "t"}}
    },
    {
      "data": {"values": [{"w": 6.0, "s": 0.01704, "t": "T"}]},
      "mark": {"type": "text", "font": "DejaVu Serif", "fontSize": 29, "fontStyle": "italic", "align": "left", "baseline": "alphabetic"},
      "encoding": {"text": {"field": "t"}}
    },
    {
      "data": {"values": [{"w": 6.63, "s": 0.01552, "t": "R"}]},
      "mark": {"type": "text", "font": "DejaVu Serif", "fontSize": 24, "fontStyle": "italic", "align": "left", "baseline": "alphabetic"},
      "encoding": {"text": {"field": "t"}}
    },
    {
      "data": {"values": [{"w": -15.48, "s": 0.01049, "t": "−"}]},
      "mark": {"type": "text", "font": "DejaVu Serif", "fontSize": 20, "angle": 270, "align": "center", "baseline": "middle"},
      "encoding": {"text": {"field": "t"}}
    },
    {
      "data": {"values": [{"w": -15.11, "s": 0.01213, "t": "S"}]},
      "mark": {"type": "text", "font": "DejaVu Serif", "fontSize": 34, "fontStyle": "italic", "angle": 270, "align": "left", "baseline": "alphabetic"},
      "encoding": {"text": {"field": "t"}}
    },
    {
      "data": {"values": [{"w": -14.82, "s": 0.01482, "t": "z"}]},
      "mark": {"type": "text", "font": "DejaVu Serif", "fontSize": 23, "fontStyle": "italic", "angle": 270, "align": "left", "baseline": "alphabetic"},
      "encoding": {"text": {"field": "t"}}
    },
    {
      "data": {"values": [{"w": -15.16, "s": 0.0188, "t": "(arb. units)"}]},
      "mark": {"type": "text", "font": "DejaVu Serif", "fontSize": 26, "angle": 270, "align": "left", "baseline": "alphabetic"},
      "encoding": {"text": {"field": "t"}}
    },
    {
      "data": {"values": [{"w": 0.788, "s": -0.03115, "t": "ω /ω"}]},
      "mark": {"type": "text", "font": "DejaVu Serif", "fontSize": 28, "align": "right", "baseline": "alphabetic"},
      "encoding": {"text": {"field": "t"}}
    },
    {
      "data": {"values": [{"w": 0.825, "s": -0.03225, "t": "R"}]},
      "mark": {"type": "text", "font": "DejaVu Serif", "fontSize": 24, "fontStyle": "italic", "align": "left", "baseline": "alphabetic"},
      "encoding": {"text": {"field": "t"}}
    }
  ],
  "resolve": {"axis": {"x": "independent", "y": "independent"}}
}
]
}
